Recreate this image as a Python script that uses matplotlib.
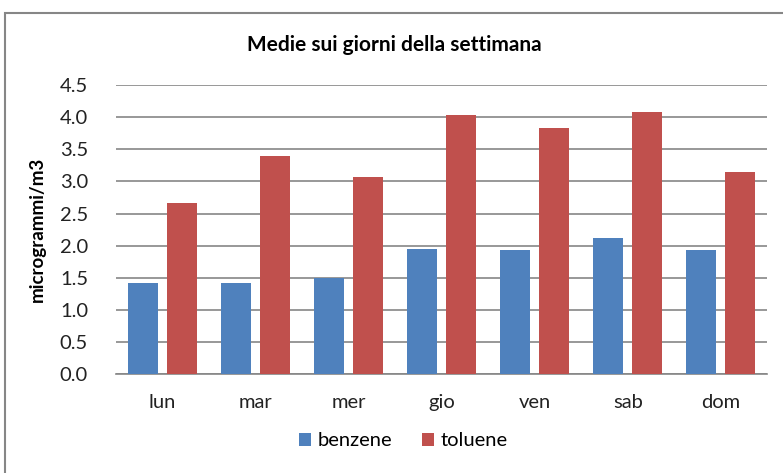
import matplotlib.pyplot as plt
import numpy as np
from matplotlib.patches import Rectangle

giorni = ["lun", "mar", "mer", "gio", "ven", "sab", "dom"]
benzene = [1.42, 1.42, 1.50, 1.95, 1.93, 2.12, 1.93]
toluene = [2.67, 3.40, 3.07, 4.04, 3.83, 4.08, 3.15]

plt.rcParams['font.family'] = ['Lato', 'DejaVu Sans']

fig = plt.figure(figsize=(7.83, 4.73), dpi=100)
ax = fig.add_axes([0.148, 0.209, 0.832, 0.611])

x = np.arange(len(giorni))
w = 0.32
ax.bar(x - 0.21, benzene, w, color="#4F81BD", label="benzene", zorder=3)
ax.bar(x + 0.21, toluene, w, color="#C0504D", label="toluene", zorder=3)

ax.set_xlim(-0.5, len(giorni) - 0.5)
ax.set_ylim(0, 4.5)
ax.set_yticks(np.arange(0, 4.51, 0.5))
ax.set_yticklabels([f"{v:.1f}" for v in np.arange(0, 4.51, 0.5)])
ax.set_xticks(x)
ax.set_xticklabels(giorni)
ax.tick_params(length=0, labelsize=14.5, colors="#222222")
ax.tick_params(axis="y", pad=20)
ax.tick_params(axis="x", pad=14)
ax.yaxis.grid(True, color="#868686", linewidth=1.2, zorder=0)
for s in ["left", "right", "top"]:
    ax.spines[s].set_visible(False)
ax.spines["bottom"].set_color("#868686")
ax.spines["bottom"].set_linewidth(1.2)

ax.set_ylabel("microgrammi/m3", fontsize=13.5, fontweight="bold", labelpad=10)
fig.text(0.503, 0.905, "Medie sui giorni della settimana", ha="center", va="center",
         fontsize=15, fontweight="bold")

fig.legend(loc="center", bbox_to_anchor=(0.515, 0.068), ncol=2, frameon=False,
           fontsize=14.5, handlelength=0.6, handleheight=0.6, columnspacing=1.5,
           handletextpad=0.3)

fig.patches.append(Rectangle((5 / 783, -0.1), 1.2, (473 - 13) / 473 + 0.1,
                             transform=fig.transFigure, fill=False,
                             edgecolor="#868686", linewidth=1.5))

fig.savefig("out.png", dpi=100)
